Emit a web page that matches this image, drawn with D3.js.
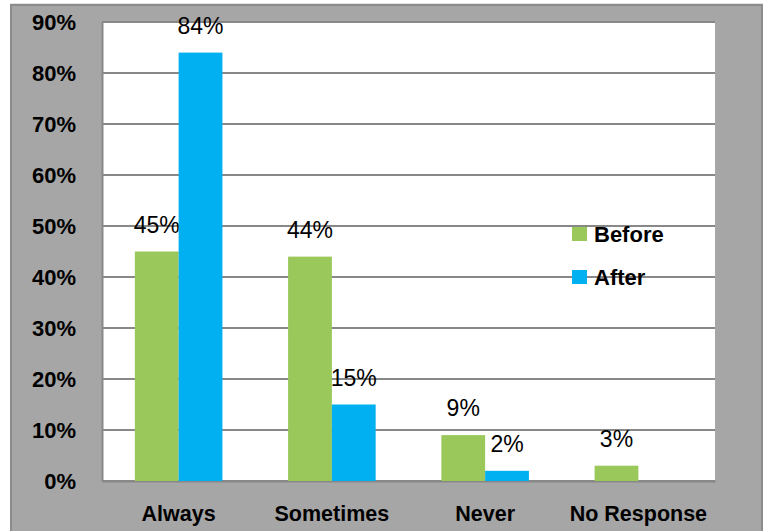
<!DOCTYPE html>
<html>
<head>
<meta charset="utf-8">
<script src="https://cdn.jsdelivr.net/npm/d3@7"></script>
<style>
  html, body { margin: 0; padding: 0; background: #fff; }
  svg { display: block; font-family: "Liberation Sans", Arial, sans-serif; }
</style>
</head>
<body>
<svg id="chart" width="768" height="531"></svg>
<script>
// Survey responses, share of respondents before and after
const categories = ["Always", "Sometimes", "Never", "No Response"];
const seriesNames = ["Before", "After"];
const beforeValues = [45, 44, 9, 3];
const afterValues = [84, 15, 2, null];
const yTicks = [0, 10, 20, 30, 40, 50, 60, 70, 80, 90];
const colors = ["#9bc85b", "#00b0f0"];

const svg = d3.select("#chart");
const plot = { left: 102, right: 715, top: 22, bottom: 481 };

// Frame
svg.append("rect")
  .attr("x", 11).attr("y", 5).attr("width", 751).attr("height", 530)
  .attr("fill", "#a6a6a6").attr("stroke", "#8c8c8c").attr("stroke-width", 2);
svg.append("line").attr("x1", 10).attr("x2", 763).attr("y1", 3.5).attr("y2", 3.5)
  .attr("stroke", "#e4e4e4").attr("stroke-width", 1);

// Plot area
svg.append("rect")
  .attr("x", plot.left).attr("y", plot.top)
  .attr("width", plot.right - plot.left).attr("height", plot.bottom - plot.top)
  .attr("fill", "#fff");

const x0 = d3.scaleBand().domain(categories).range([plot.left, plot.right]).paddingInner(0).paddingOuter(0);
const y = d3.scaleLinear().domain([0, 90]).range([plot.bottom, plot.top]);
// two bars per group with a 150% gap
const barW = x0.bandwidth() / 3.5;
const x1 = d3.scaleBand().domain(seriesNames).range([barW * 0.75, barW * 2.75]).padding(0);

// Gridlines
svg.append("g").selectAll("line").data(yTicks).join("line")
  .attr("x1", plot.left).attr("x2", plot.right)
  .attr("y1", d => y(d)).attr("y2", d => y(d))
  .attr("stroke", "#888").attr("stroke-width", 2);

// Y axis
const yAxis = svg.append("g").attr("transform", `translate(${plot.left},0)`)
  .call(d3.axisLeft(y).tickValues(yTicks).tickFormat(d => d + "%").tickSize(0).tickPadding(26));
yAxis.select(".domain").attr("stroke", "#888").attr("stroke-width", 2);
yAxis.selectAll("text").attr("font-size", "22px").attr("font-weight", "bold")
  .attr("fill", "#000").attr("font-family", "'Liberation Sans', Arial, sans-serif");

// X axis
const xAxis = svg.append("g").attr("transform", `translate(0,${plot.bottom})`)
  .call(d3.axisBottom(x0).tickSize(0).tickPadding(25));
xAxis.select(".domain").attr("stroke", "#888").attr("stroke-width", 2);
xAxis.selectAll("text").attr("font-size", "21.5px").attr("font-weight", "bold")
  .attr("fill", "#000").attr("font-family", "'Liberation Sans', Arial, sans-serif");

// Bars
const rows = categories.map((c, i) => ({ cat: c, vals: [beforeValues[i], afterValues[i]] }));
const groups = svg.append("g").selectAll("g").data(rows).join("g")
  .attr("transform", d => `translate(${x0(d.cat)},0)`);

const cells = groups.selectAll("g.cell")
  .data(d => d.vals.map((v, k) => ({ name: seriesNames[k], v, k })).filter(e => e.v != null))
  .join("g").attr("class", "cell");

cells.append("rect")
  .attr("x", d => x1(d.name))
  .attr("width", x1.bandwidth())
  .attr("y", d => y(d.v))
  .attr("height", d => y(0) - y(d.v))
  .attr("fill", d => colors[d.k]);

cells.append("text")
  .attr("x", d => x1(d.name) + x1.bandwidth() / 2)
  .attr("y", d => y(d.v) - 19)
  .attr("text-anchor", "middle")
  .attr("font-size", "23px")
  .attr("fill", "#000")
  .text(d => d.v + "%");

// Legend
const legend = svg.append("g").selectAll("g").data(seriesNames).join("g")
  .attr("transform", (d, i) => `translate(572,${234 + i * 43})`);
legend.append("rect").attr("x", 0).attr("y", -7).attr("width", 15).attr("height", 14)
  .attr("fill", (d, i) => colors[i]);
legend.append("text").attr("x", 22).attr("y", 0).attr("dy", "0.35em")
  .attr("font-size", "22px").attr("font-weight", "bold").attr("fill", "#000")
  .text(d => d);
</script>
</body>
</html>
